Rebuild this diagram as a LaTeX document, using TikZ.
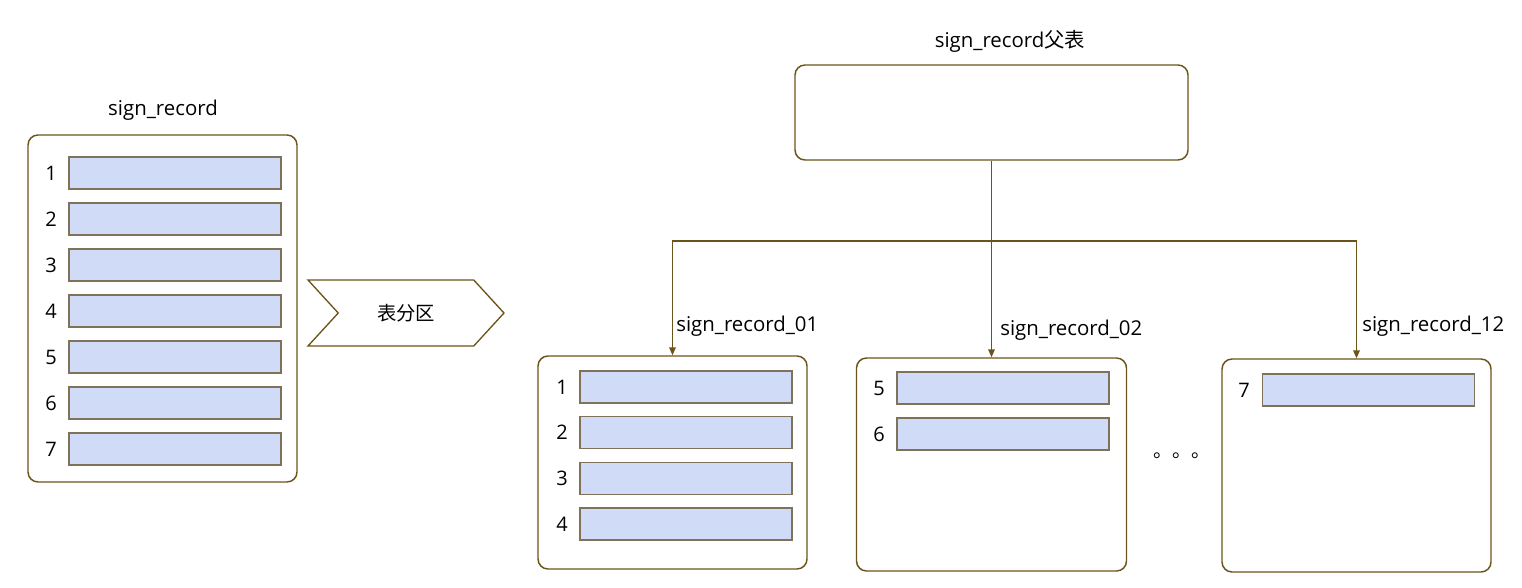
\documentclass[tikz,border=0pt]{standalone}
\usepackage{fontspec}
\setmainfont{Open Sans}
\newfontfamily\cjk{Noto Sans CJK SC}
\usetikzlibrary{arrows.meta,shapes.symbols}
\definecolor{boxc}{HTML}{6B5418}
\definecolor{barc}{HTML}{807259}
\definecolor{rowc}{HTML}{CFDBF7}
\tikzset{
  tablebox/.style={draw=boxc, line width=1.1pt, rounded corners=7.5pt, inner sep=0pt},
  rowbar/.style={draw=barc, fill=rowc, line width=1pt, minimum width=159pt, minimum height=24pt, inner sep=0pt},
  rownum/.style={font=\fontsize{15}{18}\selectfont, inner sep=0pt},
  title/.style={font=\fontsize{15.3}{18}\selectfont, inner sep=0pt},
  link/.style={draw=boxc, line width=1.1pt, -{Triangle[length=6pt,width=5pt]}}
}
\begin{document}
\begin{tikzpicture}[x=0.75pt, y=-0.75pt]
    \useasboundingbox (0,0) rectangle (1522,588);

    % Tabela original
    \node[title] (srctitle) at (163,110) {sign\_record};
    \node[tablebox, minimum width=201.75pt, minimum height=260.25pt] (src) at (162.5,308.5) {};
    \foreach \i in {1,...,7} {
      \node[rowbar] (srcrow\i) at (175,{173+46*(\i-1)}) {};
      \node[rownum] (srcnum\i) at (51,{173+46*(\i-1)}) {\i};
    }

    % Seta do particionamento
    \node[draw=boxc, line width=1pt, shape=signal, signal from=west, signal to=east,
      signal pointer angle=95, minimum width=147pt, minimum height=49.5pt,
      font=\cjk\fontsize{14.5}{17}\selectfont] (split) at (406,313) {表分区};

    % Tabela pai
    \node[title] (partitle) at (1010,41) {sign\_record{\cjk 父表}};
    \node[tablebox, minimum width=294.75pt, minimum height=71.25pt] (parent) at (991.5,112.5) {};

    % Particoes
    \node[tablebox, minimum width=201.75pt, minimum height=159.75pt] (p01) at (672.5,462.5) {};
    \node[tablebox, minimum width=202.5pt, minimum height=159.75pt] (p02) at (991.5,464.5) {};
    \node[tablebox, minimum width=201.75pt, minimum height=159.75pt] (p12) at (1356.5,465.5) {};

    \foreach \i in {1,...,4} {
      \node[rowbar] (p01row\i) at (686,{387+45.7*(\i-1)}) {};
      \node[rownum] (p01num\i) at (562,{387+45.7*(\i-1)}) {\i};
    }
    \foreach \i/\n in {1/5,2/6} {
      \node[rowbar] (p02row\i) at (1003,{388+46*(\i-1)}) {};
      \node[rownum] (p02num\i) at (879,{388+46*(\i-1)}) {\n};
    }
    \node[rowbar] (p12row1) at (1368.5,390) {};
    \node[rownum] (p12num1) at (1244,390) {7};

    \node[anchor=base west, inner sep=0pt, font=\cjk\fontsize{14.5}{17}\selectfont] (dots) at (1153,457) {。。。};

    % Ligacoes
    \coordinate (junc) at (991.5,241);
    \draw[boxc, line width=1.1pt] (parent.south) -- (junc);
    \draw[link] (junc) -| (p01.north);
    \draw[link] (junc) -- (p02.north);
    \draw[link] (junc) -| (p12.north);

    \node[title, anchor=west] (l01) at (676,326) {sign\_record\_01};
    \node[title, anchor=west] (l02) at (1000,330) {sign\_record\_02};
    \node[title, anchor=west] (l12) at (1362,326) {sign\_record\_12};
  \end{tikzpicture}
\end{document}
